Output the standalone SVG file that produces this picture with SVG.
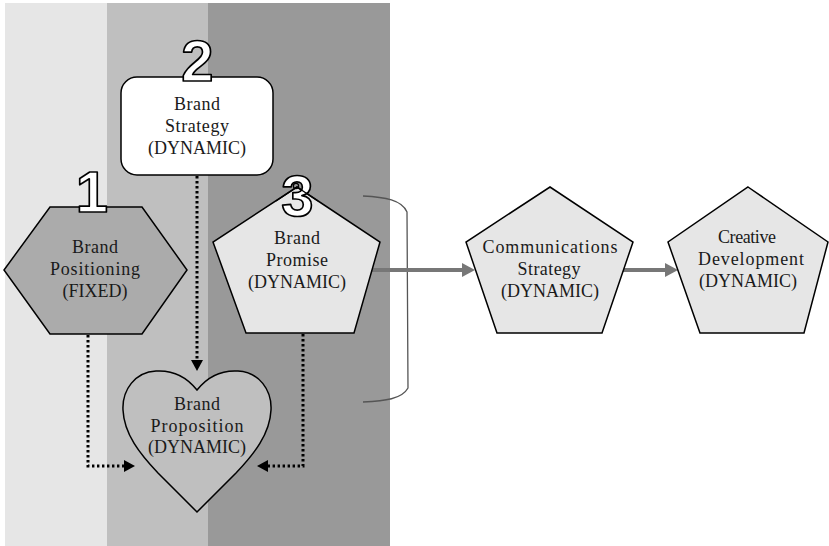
<svg xmlns="http://www.w3.org/2000/svg" width="829" height="546" viewBox="0 0 829 546">
  <style>
    .lbl { font-family: "Liberation Serif", "Times New Roman", serif; font-size: 18px; fill: #1a1a1a; text-anchor: middle; }
    .num { font-family: "Liberation Sans", Arial, sans-serif; font-weight: bold; font-size: 58px; fill: #ffffff; stroke: #000000; stroke-width: 1.7; stroke-linejoin: round; text-anchor: middle; }
    .shape { stroke: #000000; stroke-width: 1.5; stroke-linejoin: miter; }
    .dotted { fill: none; stroke: #000000; stroke-width: 3; stroke-dasharray: 2.4 2.6; }
    .flow { fill: none; stroke: #777777; stroke-width: 4; }
  </style>
  <defs>
    <marker id="headBlack" markerUnits="userSpaceOnUse" markerWidth="12" markerHeight="12" refX="0" refY="6" orient="auto">
      <path d="M0,0 L11,6 L0,12 Z" fill="#000000"/>
    </marker>
    <marker id="headGray" markerUnits="userSpaceOnUse" markerWidth="13" markerHeight="14" refX="0" refY="7" orient="auto">
      <path d="M0,0 L13,7 L0,14 Z" fill="#777777"/>
    </marker>
  </defs>

  <!-- background stages -->
  <g id="stages">
    <rect x="5" y="3" width="102" height="543" fill="#e6e6e6"/>
    <rect x="107" y="3" width="101" height="543" fill="#bfbfbf"/>
    <rect x="208" y="3" width="182" height="543" fill="#999999"/>
  </g>

  <!-- grouping bracket -->
  <path id="bracket" d="M363,196 C385,197 402,200 407,212 L408,388 C402,399 385,401 363,402" fill="none" stroke="#555555" stroke-width="1.3"/>

  <g id="connectors">
    <path class="dotted" d="M197,176 V360" marker-end="url(#headBlack)"/>
    <path class="dotted" d="M88,335 V466 H124" marker-end="url(#headBlack)"/>
    <path class="dotted" d="M303,334 V466 H268" marker-end="url(#headBlack)"/>
    <path class="flow" d="M371,270 H462" marker-end="url(#headGray)"/>
    <path class="flow" d="M622,270 H665" marker-end="url(#headGray)"/>
  </g>

  <g id="brand-strategy">
    <rect class="shape" x="121" y="77" width="152" height="98" rx="16" ry="16" fill="#ffffff"/>
    <text class="lbl" x="197" y="110" textLength="46">Brand</text>
    <text class="lbl" x="197" y="132" textLength="64">Strategy</text>
    <text class="lbl" x="197" y="154">(DYNAMIC)</text>
    <text class="num" x="197.5" y="81">2</text>
  </g>

  <g id="brand-positioning">
    <polygon class="shape" points="50,207 142,207 187,270 142,334 50,334 4,270" fill="#ababab"/>
    <text class="lbl" x="95" y="253" textLength="46">Brand</text>
    <text class="lbl" x="95" y="275" textLength="90">Positioning</text>
    <text class="lbl" x="95" y="297">(FIXED)</text>
    <text class="num" x="92" y="212">1</text>
  </g>

  <g id="brand-promise">
    <polygon class="shape" points="297,187 380,242 354,333 246,333 213,242" fill="#e6e6e6"/>
    <text class="lbl" x="297" y="244" textLength="46">Brand</text>
    <text class="lbl" x="297" y="266" textLength="62">Promise</text>
    <text class="lbl" x="297" y="288">(DYNAMIC)</text>
    <text class="num" x="297.5" y="216">3</text>
    <polyline points="276,201 297,187 318,201" fill="none" stroke="#000000" stroke-width="1.3"/>
    <circle cx="296" cy="186" r="2.6" fill="none" stroke="#000000" stroke-width="1.2"/>
  </g>

  <g id="brand-proposition">
    <path class="shape" d="M197,390 C186,376 172,370 156,371 C135,372 122,390 123,410 C124,434 140,454 158,473 L197,512 L236,473 C254,454 270,434 271,410 C272,390 259,372 238,371 C222,370 208,376 197,390 Z" fill="#bfbfbf" stroke-width="2.6"/>
    <text class="lbl" x="197" y="410" textLength="46">Brand</text>
    <text class="lbl" x="197" y="432" textLength="93">Proposition</text>
    <text class="lbl" x="197" y="453">(DYNAMIC)</text>
  </g>

  <g id="communications-strategy">
    <polygon class="shape" points="550,187 633,242 602,333 497,333 466,242" fill="#e6e6e6"/>
    <text class="lbl" x="550" y="253" textLength="135">Communications</text>
    <text class="lbl" x="549" y="275" textLength="63">Strategy</text>
    <text class="lbl" x="550" y="297">(DYNAMIC)</text>
  </g>

  <g id="creative-development">
    <polygon class="shape" points="748,187 828,242 804,333 700,333 668,242" fill="#e6e6e6"/>
    <text class="lbl" x="747" y="243" textLength="58">Creative</text>
    <text class="lbl" x="751" y="265" textLength="106">Development</text>
    <text class="lbl" x="748" y="287">(DYNAMIC)</text>
  </g>
</svg>
